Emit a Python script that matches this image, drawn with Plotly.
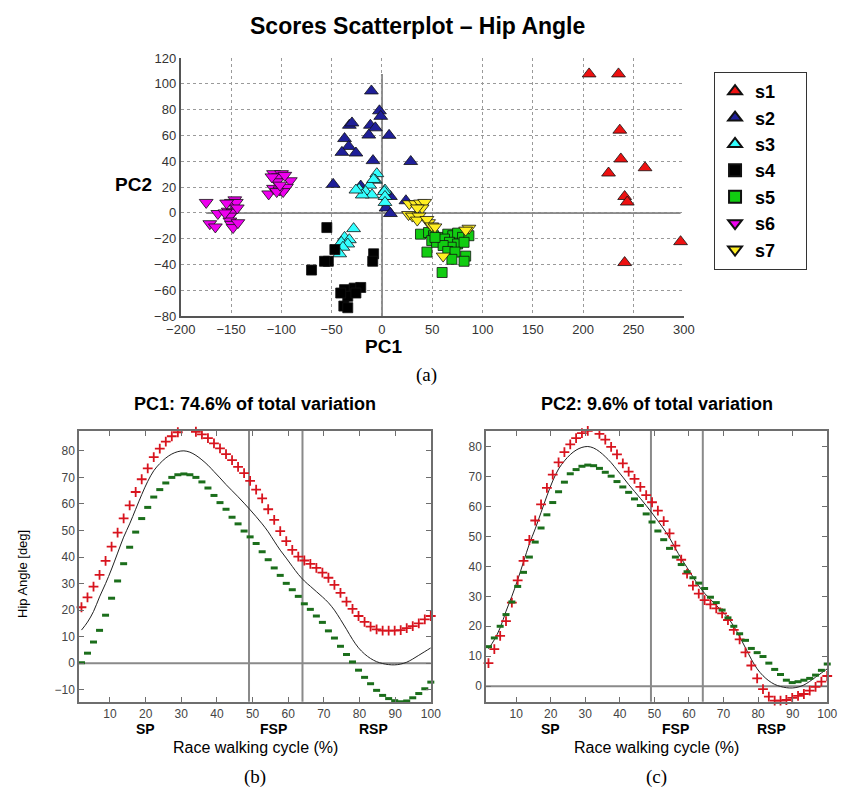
import numpy as np
import plotly.graph_objects as go

W, H = 846, 803
def fx(p): return p / W
def fy(p): return 1 - p / H

FONT = "Liberation Sans"
SERIF = "Liberation Serif"

# ---------------- Scores scatter (PC1, PC2) ----------------
s1_pc1 = [205.9, 235.1, 236.4, 237.4, 261.5, 225.2, 241.2, 243.8, 296.8, 241.2]
s1_pc2 = [107.7, 107.7, 64.1, 41.8, 35.0, 30.9, 12.7, 8.4, -22.3, -38.5]

s2_pc1 = [-10.5, -2.5, -1.2, -32.4, -29.8, -11.5, -6.6, -13.1, 7.1, -37.2, -33.0,
          -39.8, -25.9, -8.9, 28.6, -48.5, -21.1, 8.4, 4.0, 8.4, 23.8]
s2_pc2 = [94.5, 79.1, 74.8, 67.9, 69.7, 67.9, 65.9, 60.3, 60.1, 57.6, 51.5,
          46.9, 46.4, 40.5, 39.8, 22.1, 20.8, 12.7, 3.8, -0.5, 9.4]

s3_pc1 = [-5.1, -6.6, -12.1, 3.0, -8.3, -22.7, -16.3, -9.9, 2.3, 3.0, 3.0, -19.6,
          -25.9, -28.2, -37.2, -32.4, -40.4, -34.0, -38.8, -42.0]
s3_pc2 = [30.4, 25.3, 21.5, 17.7, 25.9, 18.3, 16.5, 13.9, 16.5, 12.7, 8.1, 13.9,
          17.7, -12.2, -19.0, -20.8, -22.8, -24.1, -26.6, -31.7]

s4_pc1 = [-54.8, -46.8, -53.3, -57.1, -70.0, -8.3, -9.2, -37.2, -27.6, -21.1,
          -34.0, -25.9, -37.9, -34.0, -41.0]
s4_pc2 = [-11.4, -28.4, -37.5, -37.5, -44.3, -31.7, -37.5, -59.5, -58.3, -57.8,
          -64.6, -62.1, -72.2, -73.5, -62.1]

s5_pc1 = [38.3, 46.3, 51.2, 56.0, 49.5, 54.3, 65.4, 70.4, 75.2, 80.1, 86.4, 62.2,
          67.1, 75.2, 81.6, 68.8, 60.8, 44.7, 65.4, 72.6, 83.2, 69.5, 81.6, 59.8, 52.7]
s5_pc2 = [-16.5, -15.2, -17.7, -19.0, -21.5, -22.8, -16.5, -17.7, -15.7, -19.0, -17.7, -20.3,
          -22.8, -24.1, -22.8, -26.6, -25.3, -30.4, -29.9, -30.4, -33.5, -36.0, -37.5, -46.2, -19.0]

s6_pc1 = [-174.7, -163.1, -171.1, -165.6, -152.8, -148.0, -151.2, -151.2, -149.6, -148.0,
          -143.2, -146.3, -149.6, -144.8, -143.8, -154.4, -156.0,
          -107.8, -99.8, -103.0, -104.6, -91.1, -112.6, -107.8, -101.4, -95.0, -98.2,
          -104.6, -109.4, -101.4, -96.6]
s6_pc2 = [8.1, -0.5, -8.4, -10.9, 1.3, 0.5, -2.5, -6.3, -8.9, -11.4,
          -7.6, 10.1, 8.1, 8.1, 3.8, 7.6, 0.0,
          30.4, 30.4, 27.9, 24.1, 24.9, 14.7, 19.0, 17.7, 19.8, 16.5,
          16.5, 27.9, 21.5, 29.1]

s7_pc1 = [27.1, 33.4, 38.3, 42.5, 39.9, 35.1, 26.4, 30.3, 36.7, 35.1, 46.3, 44.7,
          49.5, 52.7, 86.4, 83.2, 60.8]
s7_pc2 = [7.1, 7.1, 7.6, 8.1, 3.8, 3.8, -1.3, -2.5, -2.5, -5.6, -7.6, -5.1,
          -10.1, -10.9, -11.9, -13.4, -33.5]

subjects = ["s1", "s2", "s3", "s4", "s5", "s6", "s7"]
pc1_all = [s1_pc1, s2_pc1, s3_pc1, s4_pc1, s5_pc1, s6_pc1, s7_pc1]
pc2_all = [s1_pc2, s2_pc2, s3_pc2, s4_pc2, s5_pc2, s6_pc2, s7_pc2]
subj_colors = ["#ee1111", "#1f1f99", "#33ffff", "#000000", "#11cc11", "#ee00ee", "#ffee22"]
subj_symbols = ["triangle-up", "triangle-up", "triangle-up", "square", "square",
                "triangle-down", "triangle-down"]

# ---------------- PC loadings curves ----------------
cycle = np.linspace(2, 100, 59)  # % of race walking cycle (sample grid)

mean_angle = [12.5, 15.5, 19.5, 25.0, 30.0, 35.5, 41.5, 47.5, 52.5, 58.0,
              63.5, 68.5, 72.5, 75.2, 77.3, 78.8, 79.7, 80.0, 79.5, 78.3,
              76.6, 74.6, 72.2, 69.8, 67.3, 65.0, 62.7, 60.3, 57.8, 55.2,
              52.5, 49.5, 46.0, 42.6, 39.6, 36.5, 33.5, 31.0, 29.0, 27.0,
              25.0, 22.8, 20.0, 16.5, 12.8, 9.0, 5.8, 3.5, 1.8, 0.6,
              -0.1, -0.5, -0.6, -0.3, 0.4, 1.6, 3.0, 4.4, 5.8]

pc1_plus = [21.1, 24.8, 28.9, 33.3, 38.6, 43.9, 49.2, 54.6, 59.5, 64.5,
            69.3, 73.4, 77.6, 80.8, 83.5, 85.5, 87.0, 87.6, 87.8, 87.2,
            86.2, 84.8, 82.8, 80.9, 78.8, 76.5, 74.0, 71.6, 68.7, 65.4,
            62.1, 58.0, 54.0, 49.8, 46.0, 42.7, 40.2, 38.7, 37.4, 35.9,
            34.1, 32.2, 29.5, 26.5, 23.2, 20.5, 17.8, 15.6, 13.8, 12.8,
            12.3, 12.3, 12.3, 12.5, 13.2, 14.0, 15.0, 16.5, 17.8]
pc1_minus = [0.2, 3.8, 8.0, 12.4, 18.1, 24.5, 31.0, 37.5, 43.7, 49.4,
             54.5, 58.7, 62.6, 65.4, 67.9, 70.0, 71.0, 71.3, 71.0, 70.0,
             68.3, 66.0, 63.2, 60.5, 58.0, 55.0, 52.5, 49.8, 47.6, 45.1,
             42.0, 39.0, 35.9, 33.1, 30.1, 27.7, 25.2, 22.4, 20.3, 17.8,
             15.4, 12.2, 9.5, 6.4, 3.3, 0.5, -2.6, -5.3, -7.7, -10.2,
             -12.1, -13.3, -14.1, -14.5, -14.2, -13.0, -11.4, -9.6, -7.1]

pc2_plus = [7.7, 12.4, 16.8, 21.7, 27.9, 35.3, 41.8, 48.8, 55.3, 60.7,
            66.2, 70.6, 74.7, 78.1, 80.7, 82.8, 84.5, 85.2, 85.3, 84.2,
            82.3, 79.9, 77.4, 74.4, 71.6, 69.2, 66.5, 63.8, 61.4, 58.6,
            55.1, 51.0, 46.9, 42.2, 37.6, 33.6, 30.9, 28.7, 27.3, 26.0,
            24.3, 22.1, 18.8, 15.6, 11.3, 6.9, 2.6, -1.0, -3.5, -4.8,
            -4.8, -4.6, -3.9, -3.2, -2.6, -1.5, -0.2, 1.5, 3.4]
pc2_minus = [13.2, 16.1, 20.0, 23.9, 28.1, 33.3, 38.0, 43.1, 48.1, 52.8,
             57.2, 61.3, 64.9, 68.1, 70.9, 72.3, 73.4, 73.8, 73.6, 72.7,
             71.4, 70.1, 68.3, 66.5, 64.7, 62.5, 60.3, 57.5, 54.8, 51.8,
             48.9, 46.0, 43.1, 40.6, 38.2, 36.2, 34.4, 32.6, 29.7, 27.9,
             25.4, 22.8, 20.0, 17.5, 15.3, 12.6, 11.2, 9.9, 7.7, 5.6,
             3.9, 2.0, 1.2, 1.5, 2.0, 2.6, 3.7, 5.3, 7.4]

phase_bounds = [49, 64]
phase_names = ["SP", "FSP", "RSP"]
phase_label_pos = [20, 56, 84]

panel_titles = ["PC1: 74.6% of total variation", "PC2: 9.6% of total variation"]

fig = go.Figure()

NB = "\u00a0"
# scatter
for name, xs, ys, col, sym in zip(subjects, pc1_all, pc2_all, subj_colors, subj_symbols):
    size = 10 if sym == "square" else 12
    fig.add_trace(go.Scatter(
        x=xs, y=ys, mode="markers", name="<b>" + name + "</b>" + NB * 5, xaxis="x", yaxis="y",
        marker=dict(symbol=sym, size=size, color=col, line=dict(color="#111111", width=0.8)),
        cliponaxis=False))

all_x = [v for l in pc1_all for v in l]
all_y = [v for l in pc2_all for v in l]

# curves
RED = "#d8141e"
GREEN = "#1b6e1b"
for (plus, minus, xa, ya) in [(pc1_plus, pc1_minus, "x2", "y2"), (pc2_plus, pc2_minus, "x3", "y3")]:
    fig.add_trace(go.Scatter(x=cycle, y=mean_angle, mode="lines", xaxis=xa, yaxis=ya,
                             line=dict(color="#222222", width=1, shape="spline"),
                             showlegend=False, hoverinfo="skip"))
    fig.add_trace(go.Scatter(x=cycle, y=plus, mode="markers", xaxis=xa, yaxis=ya,
                             marker=dict(symbol="cross-thin", size=7, color=RED,
                                         line=dict(color=RED, width=1.8)),
                             showlegend=False, cliponaxis=False))
    fig.add_trace(go.Scatter(x=cycle, y=minus, mode="markers", xaxis=xa, yaxis=ya,
                             marker=dict(symbol="line-ew", size=5, color=GREEN,
                                         line=dict(color=GREEN, width=3)),
                             showlegend=False, cliponaxis=False))

shapes = []
GRAY = "#8a8a8a"
# zero lines spanning data range in scatter
shapes.append(dict(type="line", xref="x", yref="y", x0=0, x1=0, y0=-80, y1=max(all_y),
                   line=dict(color=GRAY, width=2), layer="below"))
shapes.append(dict(type="line", xref="x", yref="y", x0=min(all_x), x1=max(all_x), y0=0, y1=0,
                   line=dict(color=GRAY, width=2), layer="below"))
# phase lines and zero lines in panels
for xa, ya in [("x2", "y2"), ("x3", "y3")]:
    for b in phase_bounds:
        shapes.append(dict(type="line", xref=xa, yref=ya + " domain", x0=b, x1=b, y0=0, y1=1,
                           line=dict(color=GRAY, width=2), layer="below"))
    shapes.append(dict(type="line", xref=xa + " domain", yref=ya, x0=0, x1=1, y0=0, y1=0,
                       line=dict(color=GRAY, width=2), layer="below"))

annotations = []
def ann(text, x, y, size, family=FONT, xref="paper", angle=0):
    annotations.append(dict(text=text, x=x, y=y, xref=xref, yref="paper", showarrow=False,
                            xanchor="center", yanchor="middle", textangle=angle,
                            font=dict(family=family, size=size, color="black")))

ann("<b>Scores Scatterplot \u2013 Hip Angle</b>", fx(415), fy(19), 23)
ann("<b>PC2</b>", fx(122), fy(181), 19)
ann("<b>PC1</b>", fx(380), fy(346), 19)
ann("(a)", fx(425), fy(375), 19, SERIF)
for t, cx in zip(panel_titles, [248, 662]):
    ann("<b>" + t + "</b>", fx(cx), fy(405), 18)
for lab, cx in zip(["(b)", "(c)"], [248, 662]):
    ann(lab, fx(cx), fy(785), 19, SERIF)
    ann("Race walking cycle (%)", fx(cx), fy(755), 16)
ann("Hip Angle [deg]", fx(7), fy(578), 13, angle=-90)
for xa in ["x2", "x3"]:
    for nm, pos in zip(phase_names, phase_label_pos):
        ann("<b>" + nm + "</b>", pos, fy(736), 14, xref=xa)

tickfont = dict(family=FONT, size=13, color="#333333")
smallfont = dict(family=FONT, size=12, color="#444444")

panel_axis = dict(showgrid=False, zeroline=False, showline=True, linecolor="#6e6e6e", linewidth=1.5,
                  mirror="ticks", ticks="inside", ticklen=5, tickcolor="#6e6e6e", tickfont=smallfont)

fig.update_layout(
    width=W, height=H, margin=dict(l=0, r=0, t=0, b=0),
    paper_bgcolor="white", plot_bgcolor="white",
    shapes=shapes, annotations=annotations,
    xaxis=dict(domain=[fx(171), fx(690)], range=[-200, 300], tickvals=list(range(-200, 301, 50)),
               showgrid=True, gridcolor="#9a9a9a", griddash="dot", gridwidth=1,
               zeroline=False, showline=True, linecolor="#555555", linewidth=2,
               ticks="", tickfont=tickfont, anchor="y"),
    yaxis=dict(domain=[fy(315), fy(52)], range=[-80, 120], tickvals=list(range(-80, 121, 20)),
               showgrid=True, gridcolor="#9a9a9a", griddash="dot", gridwidth=1,
               zeroline=False, showline=True, linecolor="#555555", linewidth=2,
               ticks="", tickfont=tickfont, anchor="x"),
    xaxis2=dict(domain=[fx(66), fx(429)], range=[1.3, 100], tickvals=list(range(10, 101, 10)),
                anchor="y2", **panel_axis),
    yaxis2=dict(domain=[fy(708), fy(432)], range=[-14.5, 87.5], tickvals=list(range(-10, 81, 10)),
                anchor="x2", **panel_axis),
    xaxis3=dict(domain=[fx(486), fx(838)], range=[1.3, 100], tickvals=list(range(10, 101, 10)),
                anchor="y3", **panel_axis),
    yaxis3=dict(domain=[fy(708), fy(432)], range=[-5.2, 85.2], tickvals=list(range(0, 81, 10)),
                anchor="x3", **panel_axis),
    legend=dict(x=fx(721), y=fy(66), xanchor="left", yanchor="top", bgcolor="white",
                bordercolor="#333333", borderwidth=1.2,
                font=dict(family=FONT, size=18, color="black"), itemsizing="constant",
                tracegroupgap=0),
    showlegend=True,
)

fig.write_html("out.html")
